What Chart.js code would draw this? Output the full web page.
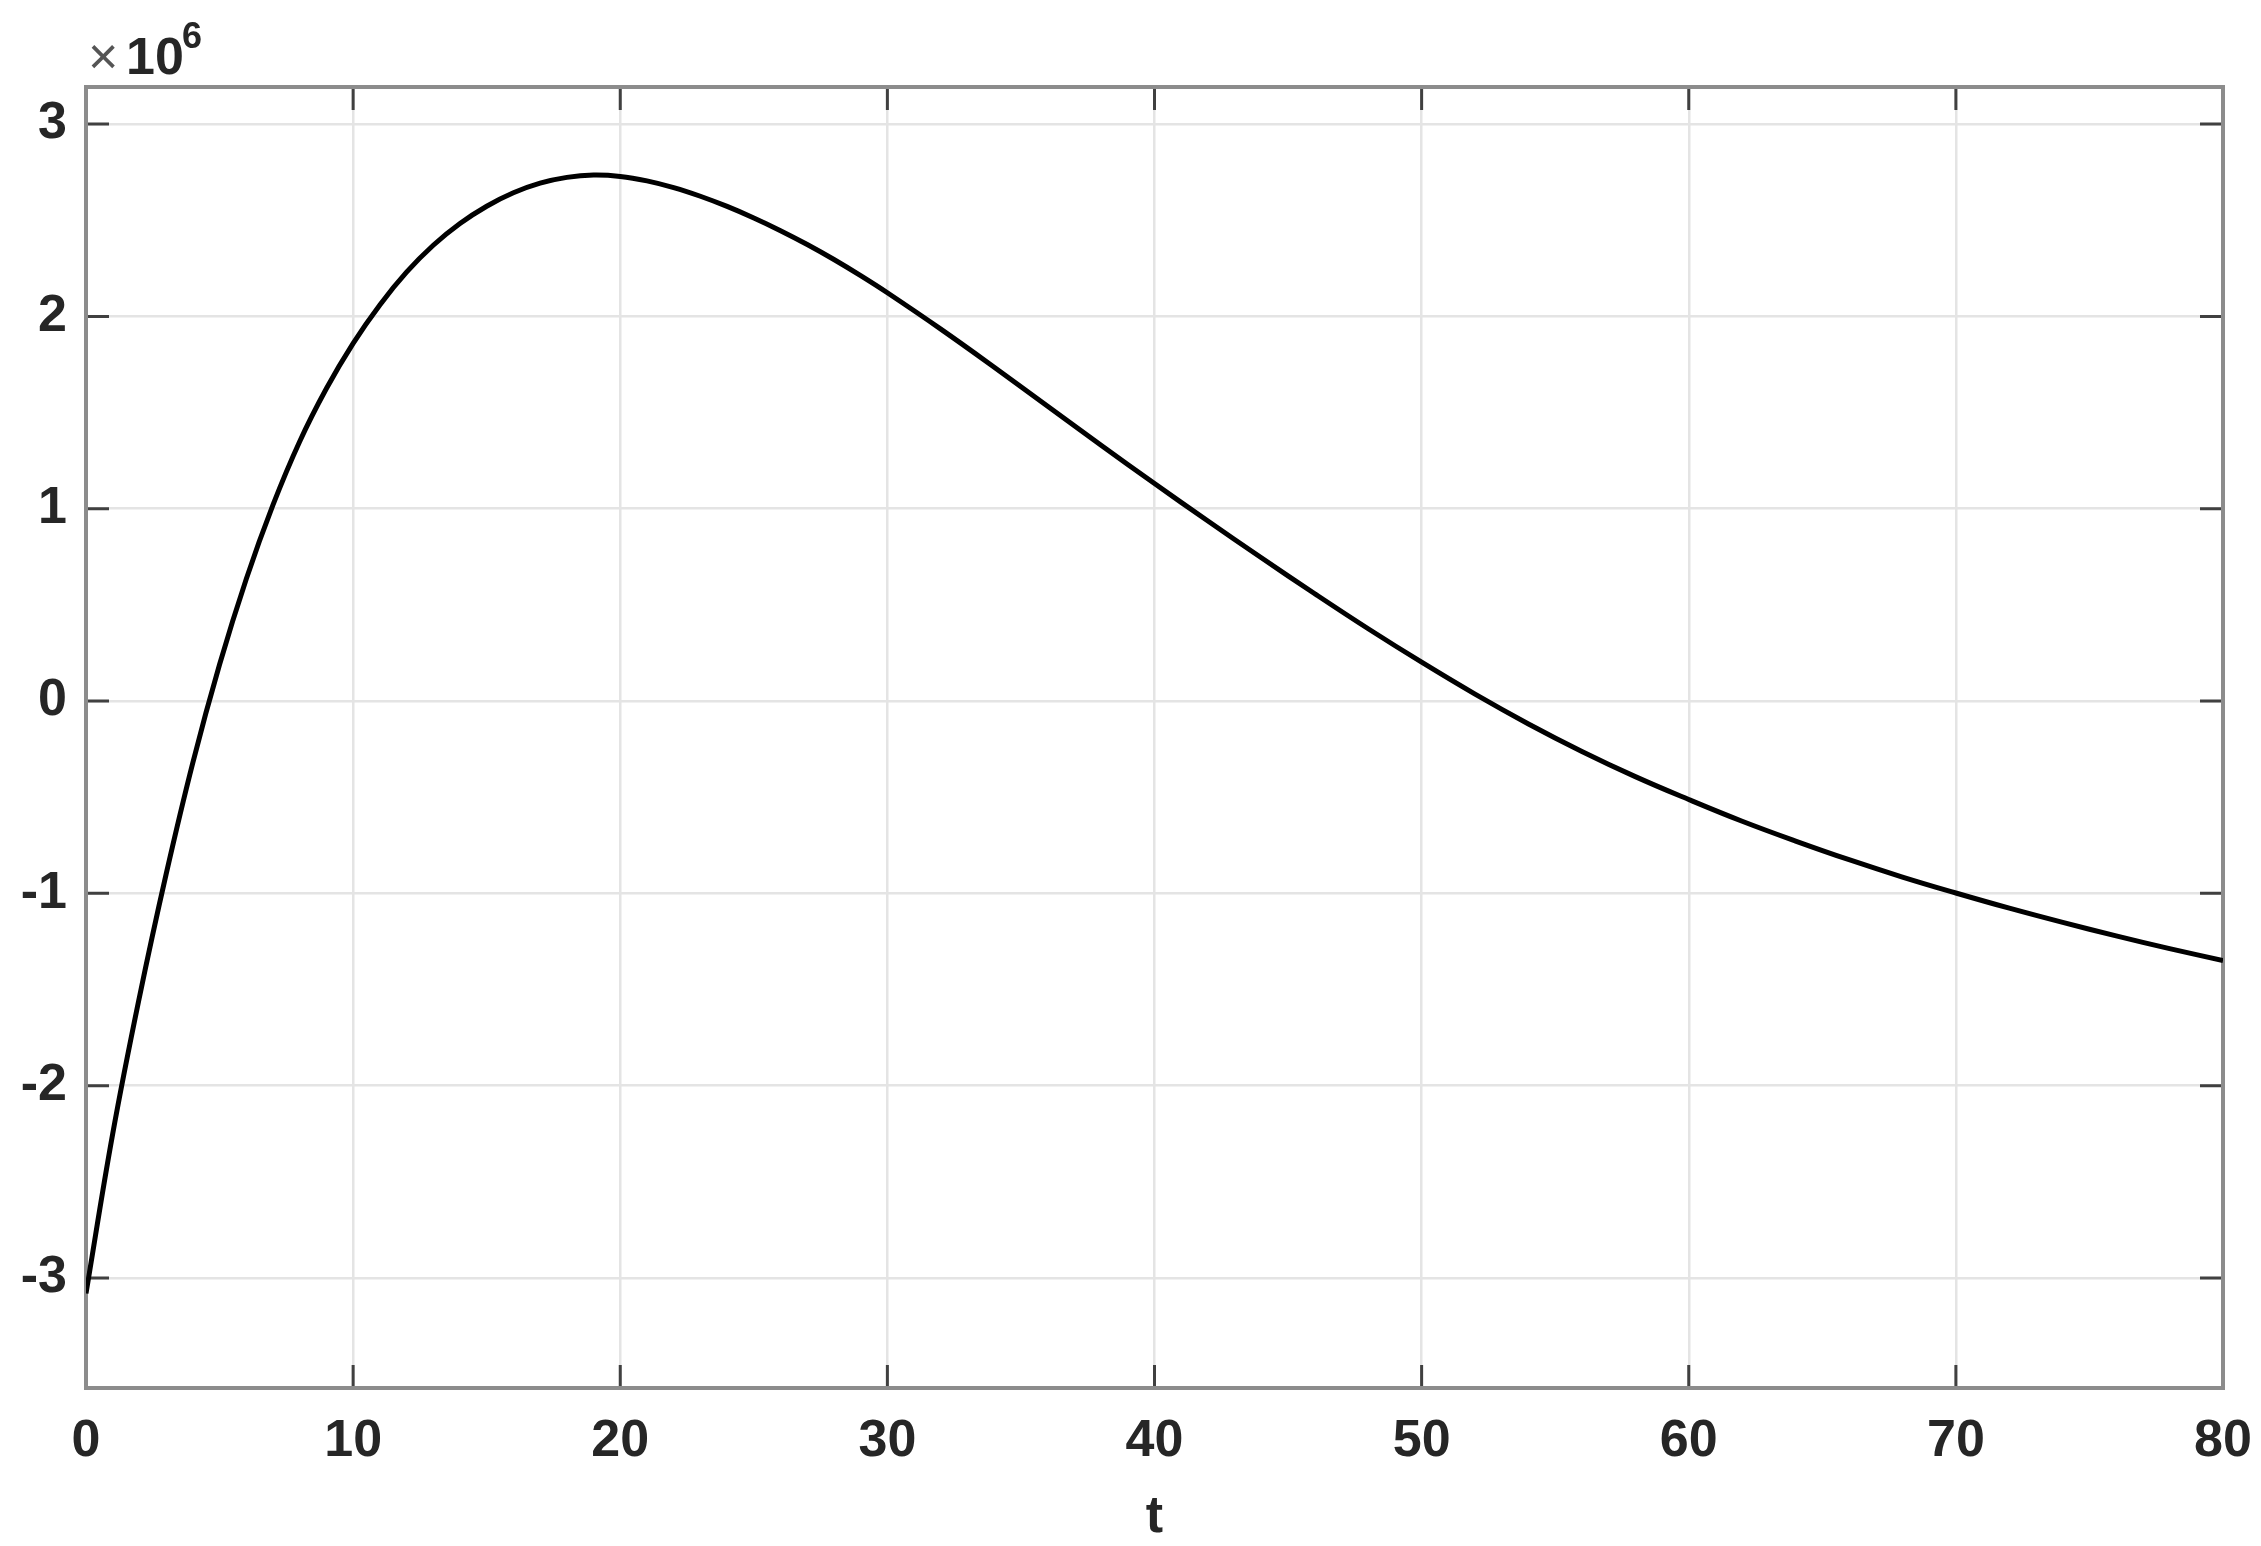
<!DOCTYPE html>
<html>
<head>
<meta charset="utf-8">
<script src="https://cdn.jsdelivr.net/npm/chart.js@4.4.1/dist/chart.umd.min.js"></script>
<style>
  html, body { margin: 0; padding: 0; background: #fff; }
  #wrap { width: 2261px; height: 1546px; position: relative; }
</style>
</head>
<body>
<div id="wrap"><canvas id="curve"></canvas></div>
<script>
// t values and y values (in units of 10^6)
const tValues = [0, 1, 2, 3, 4, 5, 6, 7, 8, 9, 10, 11, 12, 13, 14, 15, 16, 17, 18, 19, 20,
  21, 22, 23, 24, 25, 26, 27, 28, 29, 30, 32, 34, 36, 38, 40, 42, 44, 46, 48, 50,
  52, 54, 56, 58, 60, 62, 64, 66, 68, 70, 72, 74, 76, 78, 80];
const yValues = [-3.08, -2.25, -1.54, -0.90, -0.32, 0.19, 0.635, 1.02, 1.35, 1.625, 1.86, 2.06, 2.23, 2.37, 2.483, 2.573, 2.643, 2.693, 2.723, 2.735, 2.728,
  2.705, 2.67, 2.625, 2.572, 2.512, 2.446, 2.374, 2.296, 2.212, 2.123, 1.934, 1.736, 1.533, 1.33, 1.131, 0.936, 0.745, 0.558, 0.376, 0.202,
  0.036, -0.119, -0.262, -0.393, -0.512, -0.625, -0.728, -0.825, -0.915, -0.998, -1.077, -1.151, -1.221, -1.287, -1.35];
const xTicks = [0, 10, 20, 30, 40, 50, 60, 70, 80];
const yTicks = [-3, -2, -1, 0, 1, 2, 3];
const yMin = -3.572, yMax = 3.193;

const points = tValues.map((t, i) => ({x: t, y: yValues[i]}));
const labelFont = {family: "'Liberation Sans', Arial, sans-serif", size: 52, weight: 'bold'};

// MATLAB-like box with inward ticks on all four sides
const boxPlugin = {
  id: 'box',
  beforeDatasetsDraw(chart) {
    const {ctx, chartArea: a, scales: {x, y}} = chart;
    ctx.save();
    ctx.strokeStyle = '#404040';
    ctx.lineWidth = 3;
    const tl = 23;
    xTicks.forEach(v => {
      const px = x.getPixelForValue(v);
      ctx.beginPath();
      ctx.moveTo(px, a.bottom); ctx.lineTo(px, a.bottom - tl);
      ctx.moveTo(px, a.top); ctx.lineTo(px, a.top + tl);
      ctx.stroke();
    });
    yTicks.forEach(v => {
      const py = y.getPixelForValue(v);
      ctx.beginPath();
      ctx.moveTo(a.left, py); ctx.lineTo(a.left + tl, py);
      ctx.moveTo(a.right, py); ctx.lineTo(a.right - tl, py);
      ctx.stroke();
    });
    ctx.strokeStyle = '#8c8c8c';
    ctx.lineWidth = 4;
    ctx.strokeRect(a.left, a.top, a.right - a.left, a.bottom - a.top);
    ctx.restore();
  },
  afterDraw(chart) {
    const {ctx} = chart;
    ctx.save();
    ctx.fillStyle = '#555';
    ctx.font = "52px 'Liberation Sans', Arial, sans-serif";
    ctx.textBaseline = 'alphabetic';
    ctx.fillText('\u00d7', 88, 74);
    ctx.fillStyle = '#262626';
    ctx.font = "bold 52px 'Liberation Sans', Arial, sans-serif";
    ctx.fillText('10', 126, 74);
    ctx.font = "bold 36px 'Liberation Sans', Arial, sans-serif";
    ctx.fillText('6', 182, 48);
    ctx.restore();
  }
};

const ctx = document.getElementById('curve').getContext('2d');
new Chart(ctx, {
  type: 'line',
  data: {
    datasets: [{
      data: points,
      borderColor: '#000',
      borderWidth: 5,
      pointRadius: 0,
      fill: false,
      tension: 0.4
    }]
  },
  options: {
    responsive: true,
    maintainAspectRatio: false,
    animation: false,
    events: [],
    layout: {padding: {left: 0, right: 38, top: 87, bottom: 0}},
    plugins: {legend: {display: false}, tooltip: {enabled: false}},
    scales: {
      x: {
        type: 'linear',
        min: 0, max: 80,
        afterBuildTicks: axis => { axis.ticks = xTicks.map(v => ({value: v})); },
        afterFit: s => { s.height = 158; s.paddingLeft = 0; s.paddingRight = 0; },
        grid: {color: '#e4e4e4', lineWidth: 2.5, drawTicks: false},
        border: {display: false},
        ticks: {color: '#262626', font: labelFont, padding: 22, maxRotation: 0},
        title: {display: true, text: 't', color: '#262626',
          font: {family: labelFont.family, size: 52, weight: 'bold', lineHeight: 1.1}, padding: 0}
      },
      y: {
        type: 'linear',
        min: yMin, max: yMax,
        afterBuildTicks: axis => { axis.ticks = yTicks.map(v => ({value: v})); },
        afterFit: s => { s.width = 86; s.paddingTop = 0; s.paddingBottom = 0; },
        grid: {color: '#e4e4e4', lineWidth: 2.5, drawTicks: false},
        border: {display: false},
        ticks: {color: '#262626', font: labelFont, padding: 19}
      }
    }
  },
  plugins: [boxPlugin]
});
</script>
</body>
</html>
